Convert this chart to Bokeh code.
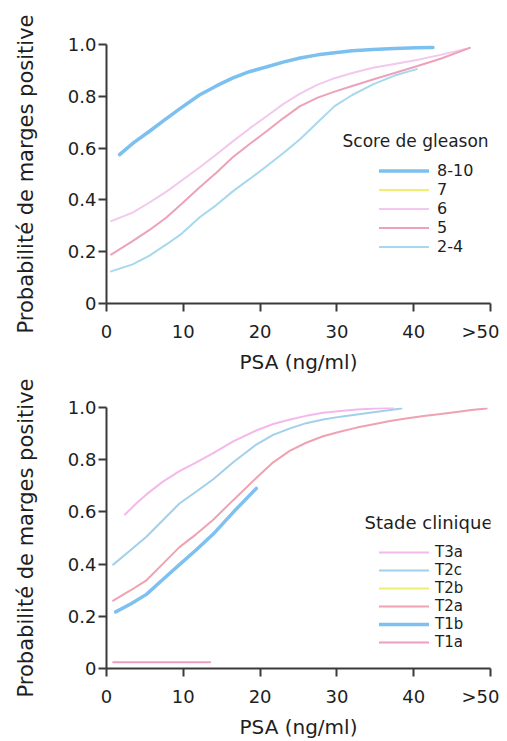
from bokeh.plotting import figure
from bokeh.models import Range1d, FixedTicker, Legend, LegendItem, Label
from bokeh.layouts import column
from bokeh.embed import file_html
from bokeh.resources import INLINE

FONT = "DejaVu Sans"
TXT = "#1e1e1e"

X_TICKS = [0, 10, 20, 30, 40, 50]
X_TICK_LABELS = ["0", "10", "20", "30", "40", ">50"]
Y_TICKS = [0, 0.2, 0.4, 0.6, 0.8, 1.0]
Y_TICK_LABELS = ["0", "0.2", "0.4", "0.6", "0.8", "1.0"]
X_TITLE = "PSA (ng/ml)"
Y_TITLE = "Probabilité de marges positive"

# ---- Top chart: Score de gleason ----
GLEASON_TITLE = "Score de gleason"
G810_X = [1.7, 3.5, 5.6, 7.7, 9.8, 12.1, 14.3, 16.4, 18.6, 20.8, 23.0, 25.2, 27.5, 29.7, 32.0, 34.7, 37.5, 40.4, 42.5]
G810_Y = [0.575, 0.62, 0.665, 0.712, 0.757, 0.805, 0.84, 0.87, 0.895, 0.913, 0.932, 0.948, 0.96, 0.968, 0.976, 0.981, 0.985, 0.987, 0.988]
G7_X = []
G7_Y = []
G6_X = [0.6, 3.4, 5.6, 7.8, 9.8, 12.1, 14.3, 16.4, 18.6, 20.8, 23.0, 25.2, 27.5, 29.7, 32.0, 34.7, 37.5, 40.4, 43.5, 47.3]
G6_Y = [0.318, 0.351, 0.39, 0.432, 0.475, 0.525, 0.575, 0.625, 0.675, 0.722, 0.77, 0.81, 0.845, 0.87, 0.89, 0.91, 0.925, 0.94, 0.96, 0.987]
G5_X = [0.6, 3.4, 5.6, 7.8, 9.8, 12.1, 14.3, 16.4, 18.6, 20.8, 23.0, 25.2, 27.5, 29.7, 32.0, 34.7, 37.5, 40.4, 43.5, 47.3]
G5_Y = [0.189, 0.241, 0.284, 0.332, 0.385, 0.448, 0.505, 0.564, 0.615, 0.664, 0.715, 0.762, 0.795, 0.818, 0.84, 0.865, 0.89, 0.916, 0.945, 0.987]
G24_X = [0.6, 3.4, 5.6, 7.8, 9.8, 12.1, 14.3, 16.4, 18.6, 20.8, 23.0, 25.2, 27.5, 29.7, 32.0, 34.7, 37.5, 40.4]
G24_Y = [0.124, 0.151, 0.185, 0.228, 0.27, 0.332, 0.38, 0.432, 0.48, 0.529, 0.58, 0.634, 0.70, 0.762, 0.805, 0.846, 0.88, 0.905]
GLEASON_LABELS = ["8-10", "7", "6", "5", "2-4"]

# ---- Bottom chart: Stade clinique ----
STADE_TITLE = "Stade clinique"
T3A_X = [2.4, 3.8, 5.2, 7.3, 9.5, 11.7, 13.9, 16.5, 19.5, 21.7, 23.9, 26.0, 28.2, 30.5, 32.6, 35.0, 37.3]
T3A_Y = [0.59, 0.63, 0.667, 0.715, 0.756, 0.79, 0.825, 0.87, 0.912, 0.937, 0.954, 0.968, 0.98, 0.987, 0.992, 0.996, 0.999]
T2C_X = [0.87, 3.0, 5.2, 7.3, 9.5, 11.7, 13.9, 16.5, 19.5, 21.7, 23.9, 26.0, 28.2, 30.5, 32.6, 35.5, 38.4]
T2C_Y = [0.398, 0.45, 0.505, 0.567, 0.632, 0.678, 0.725, 0.79, 0.858, 0.895, 0.92, 0.94, 0.954, 0.965, 0.973, 0.985, 0.996]
T2B_X = []
T2B_Y = []
T2A_X = [0.87, 3.0, 5.2, 7.3, 9.5, 11.7, 13.9, 16.5, 19.5, 21.7, 23.9, 26.0, 28.2, 30.5, 32.6, 34.8, 36.9, 39.0, 41.3, 43.5, 45.6, 47.5, 49.5]
T2A_Y = [0.26, 0.297, 0.338, 0.4, 0.465, 0.515, 0.57, 0.645, 0.73, 0.79, 0.835, 0.865, 0.89, 0.908, 0.923, 0.936, 0.948, 0.958, 0.967, 0.975, 0.983, 0.99, 0.996]
T1B_X = [1.2, 3.2, 5.2, 7.3, 9.5, 11.7, 13.9, 16.7, 19.5]
T1B_Y = [0.217, 0.248, 0.284, 0.34, 0.398, 0.455, 0.515, 0.605, 0.69]
T1A_X = [0.87, 13.5]
T1A_Y = [0.024, 0.024]
STADE_LABELS = ["T3a", "T2c", "T2b", "T2a", "T1b", "T1a"]

NAN = float("nan")


def make_fig(frame_h, border_top, border_left, border_right, border_bottom):
    p = figure(frame_width=384, frame_height=frame_h,
               x_range=Range1d(0, 50), y_range=Range1d(0, 1),
               output_backend="svg", toolbar_location=None,
               min_border_top=border_top, min_border_left=border_left,
               min_border_bottom=border_bottom, min_border_right=border_right)
    p.outline_line_color = None
    p.grid.visible = False
    p.background_fill_color = "white"
    p.border_fill_color = "white"
    p.xaxis.ticker = FixedTicker(ticks=X_TICKS)
    p.yaxis.ticker = FixedTicker(ticks=Y_TICKS)
    p.xaxis.major_label_overrides = dict(zip(X_TICKS, X_TICK_LABELS))
    p.yaxis.major_label_overrides = dict(zip(Y_TICKS, Y_TICK_LABELS))
    p.xaxis.axis_label = X_TITLE
    p.yaxis.axis_label = Y_TITLE
    for ax in (p.xaxis[0], p.yaxis[0]):
        ax.axis_line_color = "#3a3a3a"
        ax.axis_line_width = 2
        ax.major_tick_line_color = "#3a3a3a"
        ax.major_tick_line_width = 2
        ax.major_tick_out = 8
        ax.major_tick_in = 0
        ax.minor_tick_line_color = None
        ax.major_label_text_font = FONT
        ax.major_label_text_font_size = "18px"
        ax.major_label_text_color = TXT
        ax.axis_label_text_font = FONT
        ax.axis_label_text_font_style = "normal"
        ax.axis_label_text_color = TXT
    p.xaxis.axis_label_text_font_size = "20px"
    p.yaxis.axis_label_text_font_size = "21px"
    p.xaxis.major_label_standoff = 9
    p.xaxis.axis_label_standoff = 5
    p.yaxis.major_label_standoff = 2
    p.yaxis.axis_label_standoff = 27
    return p


def draw(p, xs, ys, col, w):
    if not xs:
        xs, ys = [NAN], [NAN]
    return p.line(xs, ys, line_color=col, line_width=w, line_cap="round")


# top figure
p1 = make_fig(259, 44, 103, 12, 60)
top_series = [
    (G810_X, G810_Y, "#7cc0f0", 3.5),
    (G7_X, G7_Y, "#f0ee70", 2),
    (G6_X, G6_Y, "#f2c8ee", 2),
    (G5_X, G5_Y, "#eca2b8", 2),
    (G24_X, G24_Y, "#a6d8ee", 2),
]
items = []
for (xs, ys, col, w), lab in zip(top_series, GLEASON_LABELS):
    r = draw(p1, xs, ys, col, w)
    items.append(LegendItem(label=lab, renderers=[r]))
leg1 = Legend(items=items, location=(273, 47), padding=0, spacing=0, margin=0,
              glyph_width=50, glyph_height=19, label_height=19, label_standoff=8,
              label_text_font=FONT, label_text_font_size="16px", label_text_color=TXT,
              border_line_color=None, background_fill_alpha=0)
p1.add_layout(leg1, "center")
p1.add_layout(Label(x=236, y=163, x_units="screen", y_units="screen", text=GLEASON_TITLE,
                    text_baseline="middle", text_font=FONT, text_font_size="17px",
                    text_color=TXT))

# bottom figure
p2 = make_fig(261, 31, 106, 9, 60)
bot_series = [
    (T3A_X, T3A_Y, "#f4b8ea", 2),
    (T2C_X, T2C_Y, "#a2d0ec", 2),
    (T2B_X, T2B_Y, "#f0ee70", 2),
    (T2A_X, T2A_Y, "#eea2b2", 2),
    (T1B_X, T1B_Y, "#7ec0f2", 3.5),
    (T1A_X, T1A_Y, "#ee9cc4", 2),
]
items2 = []
for (xs, ys, col, w), lab in zip(bot_series, STADE_LABELS):
    r = draw(p2, xs, ys, col, w)
    items2.append(LegendItem(label=lab, renderers=[r]))
leg2 = Legend(items=items2, location=(273, 17), padding=0, spacing=0, margin=0,
              glyph_width=50, glyph_height=18, label_height=18, label_standoff=6,
              label_text_font=FONT, label_text_font_size="15px", label_text_color=TXT,
              border_line_color=None, background_fill_alpha=0)
p2.add_layout(leg2, "center")
p2.add_layout(Label(x=258, y=146, x_units="screen", y_units="screen", text=STADE_TITLE,
                    text_baseline="middle", text_font=FONT, text_font_size="18px",
                    text_color=TXT))

layout = column(p1, p2, spacing=0)
open("out.html", "w").write(file_html(layout, INLINE))
